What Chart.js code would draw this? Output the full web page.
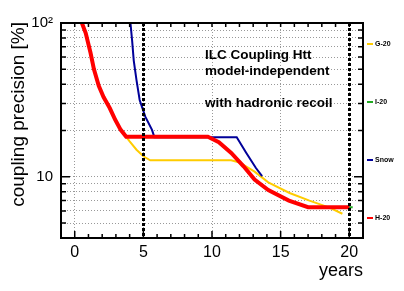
<!DOCTYPE html>
<html>
<head>
<meta charset="utf-8">
<script src="https://cdn.jsdelivr.net/npm/chart.js@4/dist/chart.umd.min.js"></script>
<style>
  body { margin: 0; background: #fff; }
  canvas { display: block; }
</style>
</head>
<body>
<canvas id="htt" width="404" height="291"></canvas>
<script>
// scenario curves: years vs coupling precision [%]
var h20Years = [0.45, 0.8, 1.15, 1.4, 1.75, 2.1, 2.55, 2.95, 3.35, 3.75, 9.7, 10.5, 11.4, 12.3, 13.1, 14.1, 15.6, 17.0, 20.0];
var h20Prec  = [104, 86, 64, 50, 39, 33, 28, 23.5, 20.2, 18.2, 18.2, 16.8, 14.3, 11.7, 9.6, 8.2, 7.0, 6.35, 6.35];

var g20Years = [0.45, 0.8, 1.15, 1.4, 1.75, 2.1, 2.55, 2.95, 3.35, 3.75, 4.0, 4.5, 5.0, 5.5, 11.4, 12.0, 13.1, 14.1, 15.65, 17.1, 18.55, 19.5];
var g20Prec  = [104, 86, 64, 50, 39, 33, 28, 23.5, 20.2, 18.2, 17.0, 15.0, 13.6, 12.8, 12.8, 12.4, 10.8, 9.2, 7.85, 7.0, 6.3, 5.75];

var snowYears = [4.05, 4.18, 4.3, 4.5, 4.73, 5.14, 5.63, 5.8, 11.8, 12.5, 13.2, 13.65];
var snowPrec  = [102, 77, 57, 42.5, 31.6, 24.6, 20.2, 18.1, 18.1, 14.3, 11.4, 10.1];

var i20Years = [17.0, 20.25];
var i20Prec  = [6.35, 6.35];

var xTicks = [0, 5, 10, 15, 20];
var yTicks = [5, 6, 7, 8, 9, 10, 20, 30, 40, 50, 60, 70, 80, 90, 100];
var markerYears = [5, 20];
var labelOrder = ['G-20', 'I-20', 'Snow', 'H-20'];
var infoLines = ['ILC Coupling Htt', 'model-independent', '', 'with hadronic recoil'];
var yTitle = 'coupling precision [%]';

var FONT = '"Liberation Sans", Arial, Helvetica, sans-serif';

function toPoints(xs, ys) {
	var pts = [];
	for (var i = 0; i < xs.length; i++) {
		pts.push({x: xs[i], y: ys[i]});
	}
	return pts;
}

function series(label, xs, ys, color, width) {
	return {
		label: label,
		data: toPoints(xs, ys),
		borderColor: color,
		backgroundColor: color,
		borderWidth: width,
		pointRadius: 0,
		tension: 0,
		fill: false,
		clip: 0
	};
}

// frame, inward ticks, marker lines, text
var rootStyle = {
	id: 'rootStyle',
	afterDatasetsDraw: function(chart) {
		var ctx = chart.ctx;
		var a = chart.chartArea;
		var xs = chart.scales.x, ys = chart.scales.y;

		ctx.save();
		// black dotted marker lines
		ctx.strokeStyle = '#000';
		ctx.lineWidth = 3;
		ctx.setLineDash([3, 2]);
		markerYears.forEach(function(yr) {
			var px = Math.round(xs.getPixelForValue(yr)) + 0.5;
			ctx.beginPath();
			ctx.moveTo(px, a.top);
			ctx.lineTo(px, a.bottom);
			ctx.stroke();
		});
		ctx.setLineDash([]);

		// frame
		ctx.lineWidth = 2;
		ctx.strokeRect(a.left, a.top, a.right - a.left, a.bottom - a.top);

		// x ticks every year, bottom and top
		ctx.lineWidth = 1.5;
		ctx.beginPath();
		for (var yr = Math.ceil(xs.min); yr <= xs.max; yr++) {
			var px = xs.getPixelForValue(yr);
			var len = (yr % 5 === 0) ? 7 : 4;
			ctx.moveTo(px, a.bottom);
			ctx.lineTo(px, a.bottom - len);
			ctx.moveTo(px, a.top);
			ctx.lineTo(px, a.top + 4);
		}
		// y ticks left and right
		yTicks.forEach(function(v) {
			var py = ys.getPixelForValue(v);
			var len = (v === 10 || v === 100) ? 9 : 5;
			ctx.moveTo(a.left, py);
			ctx.lineTo(a.left + len, py);
			ctx.moveTo(a.right, py);
			ctx.lineTo(a.right - len, py);
		});
		ctx.stroke();

		// y axis title, end aligned with the top of the frame
		ctx.fillStyle = '#000';
		ctx.save();
		ctx.translate(23.5, a.top - 1);
		ctx.rotate(-Math.PI / 2);
		ctx.font = '19px ' + FONT;
		ctx.textAlign = 'right';
		ctx.textBaseline = 'alphabetic';
		ctx.fillText(yTitle, 0, 0);
		ctx.restore();

		// info text
		ctx.font = 'bold 13.5px ' + FONT;
		ctx.textAlign = 'left';
		ctx.textBaseline = 'middle';
		infoLines.forEach(function(t, i) {
			ctx.fillText(t, a.left + 144, a.top + 32 + i * 16);
		});

		// labels right of the frame
		ctx.font = 'bold 7px ' + FONT;
		labelOrder.forEach(function(name, i) {
			var ds = chart.data.datasets.filter(function(d) { return d.label === name; })[0];
			var y = a.top + 21 + i * 58;
			ctx.strokeStyle = ds.borderColor;
			ctx.lineWidth = 2;
			ctx.beginPath();
			ctx.moveTo(a.right + 4, y);
			ctx.lineTo(a.right + 10, y);
			ctx.stroke();
			ctx.fillStyle = '#000';
			ctx.fillText(name, a.right + 12, y + 0.5);
		});
		ctx.restore();
	}
};

new Chart(document.getElementById('htt').getContext('2d'), {
	type: 'line',
	data: {
		datasets: [
			series('H-20', h20Years, h20Prec, '#ff0000', 4),
			series('Snow', snowYears, snowPrec, '#000099', 2),
			series('G-20', g20Years, g20Prec, '#ffcc00', 2),
			series('I-20', i20Years, i20Prec, '#22aa22', 2)
		]
	},
	options: {
		responsive: false,
		animation: false,
		layout: { padding: { top: 23, right: 41, left: 0, bottom: 0 } },
		plugins: {
			legend: { display: false },
			tooltip: { enabled: false }
		},
		scales: {
			x: {
				type: 'linear',
				min: -1,
				max: 21,
				afterBuildTicks: function(scale) {
					scale.ticks = xTicks.map(function(v) { return {value: v}; });
				},
				afterFit: function(scale) { scale.height = 53; },
				grid: { color: '#999', lineWidth: 1, drawTicks: false },
				border: { display: false, dash: [1, 2] },
				ticks: {
					padding: 5,
					color: '#000',
					font: { family: FONT, size: 16 },
					maxRotation: 0,
					callback: function(v) { return v; }
				},
				title: {
					display: true,
					text: 'years',
					align: 'end',
					color: '#000',
					font: { family: FONT, size: 18 },
					padding: { top: 0, bottom: 9 }
				}
			},
			y: {
				type: 'logarithmic',
				min: 4,
				max: 100,
				afterBuildTicks: function(scale) {
					scale.ticks = yTicks.map(function(v) { return {value: v}; });
				},
				afterFit: function(scale) { scale.width = 61; },
				grid: { color: '#999', lineWidth: 1, drawTicks: false },
				border: { display: false, dash: [1, 2] },
				ticks: {
					padding: 8,
					color: '#000',
					font: { family: FONT, size: 15 },
					autoSkip: false,
					callback: function(v) {
						if (v === 10) return '10';
						if (v === 100) return '10\u00b2';
						return '';
					}
				}
			}
		}
	},
	plugins: [rootStyle]
});
</script>
</body>
</html>
